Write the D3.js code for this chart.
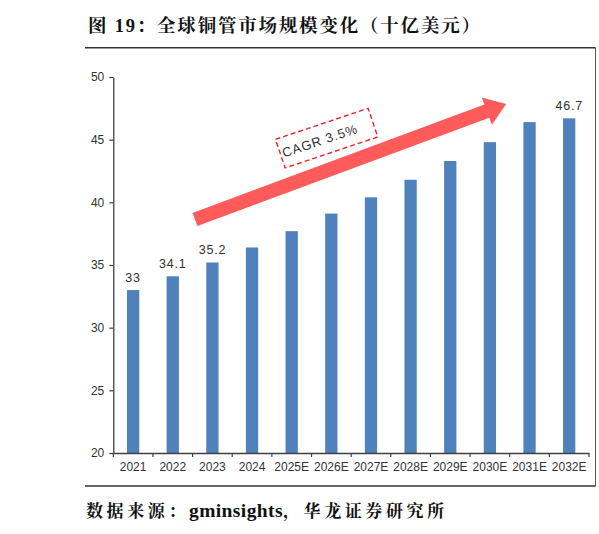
<!DOCTYPE html>
<html>
<head>
<meta charset="utf-8">
<script src="https://cdn.jsdelivr.net/npm/d3@7"></script>
<style>
  html, body { margin: 0; padding: 0; background: #fff; }
  svg { display: block; }
</style>
</head>
<body>
<div id="chart"></div>
<script>
// ---- data ----
const categories = ["2021","2022","2023","2024","2025E","2026E","2027E","2028E","2029E","2030E","2031E","2032E"];
const values = [33, 34.1, 35.2, 36.4, 37.7, 39.1, 40.4, 41.8, 43.3, 44.8, 46.4, 46.7];
const labeledCategories = ["2021","2022","2023","2032E"];
const yTicks = [20, 25, 30, 35, 40, 45, 50];
const titleText = "图 19：全球铜管市场规模变化（十亿美元）";
const sourceParts = ["数据来源：", "gminsights", "，华龙证券研究所"];
const cagrText = "CAGR 3.5%";
// annotation anchors in data space (category index, value)
const arrowTail = { i: 1.56, v: 38.63 };
const arrowTip = { i: 9.41, v: 47.85 };
const cagrBox = { i: 4.88, v: 45.12 };

const W = 599, H = 534;
const svg = d3.select("#chart").append("svg").attr("width", W).attr("height", H);

const plot = { left: 113.3, right: 589, top: 77, bottom: 453 };

const x = d3.scaleBand().domain(categories).range([plot.left, plot.right])
  .paddingInner(0.69).paddingOuter(0.345);
const y = d3.scaleLinear().domain([20, 50]).range([plot.bottom, plot.top]);
const step = x.step();
const xi = i => plot.left + (i + 0.5) * step;

const serif = "'Liberation Serif','Noto Serif CJK SC','Noto Sans CJK SC',serif";
const sans = "'Liberation Sans', Arial, sans-serif";

// title
svg.append("text")
  .attr("x", 88).attr("y", 32)
  .attr("font-family", serif)
  .attr("font-weight", "bold").attr("font-size", 18.5).attr("fill", "#111")
  .attr("textLength", 392).attr("lengthAdjust", "spacing")
  .text(titleText);

// frame lines
const frame = svg.append("g").attr("stroke", "#333").attr("fill", "none");
frame.append("line").attr("x1", 85).attr("x2", 595.5).attr("y1", 47.7).attr("y2", 47.7).attr("stroke-width", 1.4);
frame.append("line").attr("x1", 85).attr("x2", 595.5).attr("y1", 486).attr("y2", 486).attr("stroke-width", 1.4);
frame.append("line").attr("x1", 595.5).attr("x2", 595.5).attr("y1", 47.7).attr("y2", 486).attr("stroke-width", 1).attr("stroke", "#555");

// bars
svg.append("g").selectAll("rect").data(categories).join("rect")
  .attr("x", d => x(d))
  .attr("width", x.bandwidth())
  .attr("y", (d, i) => y(values[i]))
  .attr("height", (d, i) => y(20) - y(values[i]))
  .attr("fill", "#4F81BD");

// y axis
const yAxis = svg.append("g").attr("transform", `translate(${plot.left},0)`)
  .call(d3.axisLeft(y).tickValues(yTicks).tickSize(4).tickSizeOuter(0).tickPadding(5));
yAxis.select(".domain").attr("stroke", "#404040").attr("stroke-width", 1.3);
yAxis.selectAll(".tick line").attr("stroke", "#404040").attr("stroke-width", 1.2);
yAxis.selectAll(".tick text").attr("font-family", sans)
  .attr("font-size", 12).attr("fill", "#333");

// x axis
const xAxis = svg.append("g").attr("transform", `translate(0,${plot.bottom})`)
  .call(d3.axisBottom(x).tickSize(0).tickSizeOuter(0).tickPadding(9));
xAxis.select(".domain").attr("stroke", "#404040").attr("stroke-width", 1.3);
xAxis.selectAll(".tick text").attr("font-family", sans)
  .attr("font-size", 12).attr("fill", "#333");
// x ticks at band boundaries
xAxis.append("g").selectAll("line").data(d3.range(categories.length + 1)).join("line")
  .attr("x1", i => plot.left + i * step).attr("x2", i => plot.left + i * step)
  .attr("y1", 0).attr("y2", 4)
  .attr("stroke", "#404040").attr("stroke-width", 1.2);

// data labels
svg.append("g").selectAll("text").data(categories.filter(c => labeledCategories.includes(c))).join("text")
  .attr("x", d => x(d) + x.bandwidth() / 2)
  .attr("y", d => y(values[categories.indexOf(d)]) - 8)
  .attr("text-anchor", "middle")
  .attr("font-family", sans)
  .attr("font-size", 12.5).attr("fill", "#333")
  .attr("letter-spacing", 0.8)
  .text(d => String(values[categories.indexOf(d)]));

// arrow annotation
(function () {
  const t0 = [xi(arrowTail.i), y(arrowTail.v)];
  const t1 = [xi(arrowTip.i), y(arrowTip.v)];
  const dx = t1[0] - t0[0], dy = t1[1] - t0[1];
  const L = Math.hypot(dx, dy);
  const ux = dx / L, uy = dy / L;
  const px = -uy, py = ux;
  const bw = 7, hw = 14.5, hl = 20.6;
  const b = [t1[0] - ux * hl, t1[1] - uy * hl];
  const pts = [
    [t0[0] + px * bw, t0[1] + py * bw],
    [b[0] + px * bw, b[1] + py * bw],
    [b[0] + px * hw, b[1] + py * hw],
    t1,
    [b[0] - px * hw, b[1] - py * hw],
    [b[0] - px * bw, b[1] - py * bw],
    [t0[0] - px * bw, t0[1] - py * bw]
  ];
  svg.append("path").attr("d", d3.line()(pts) + "Z").attr("fill", "#FF5B5B");
})();

// CAGR box
const cg = svg.append("g")
  .attr("transform", `translate(${xi(cagrBox.i)},${y(cagrBox.v)}) rotate(-18.5)`);
cg.append("rect").attr("x", -48.8).attr("y", -15.1).attr("width", 97.7).attr("height", 30.2)
  .attr("fill", "#fff").attr("stroke", "#E8262A").attr("stroke-width", 1.4)
  .attr("stroke-dasharray", "5,3");
cg.append("text").attr("x", -7).attr("y", 4.8).attr("text-anchor", "middle")
  .attr("font-family", sans)
  .attr("font-size", 13).attr("fill", "#333").attr("letter-spacing", 0.9)
  .text(cagrText);

// source
const src = svg.append("text")
  .attr("x", 86).attr("y", 517)
  .attr("font-family", serif)
  .attr("font-weight", "bold").attr("font-size", 17).attr("fill", "#111");
src.selectAll("tspan").data(sourceParts).join("tspan")
  .attr("font-size", (d, i) => i === 1 ? 19.5 : 17)
  .attr("letter-spacing", (d, i) => i === 1 ? 0.4 : 3.6)
  .text(d => d);
</script>
</body>
</html>
